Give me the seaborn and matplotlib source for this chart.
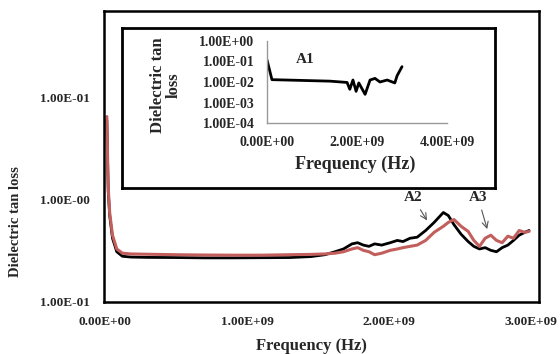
import numpy as np
import pandas as pd
import seaborn as sns
from matplotlib import pyplot as plt

# main plot, frequency in GHz (scaled to Hz below)
freq_main = [0.01, 0.015, 0.02, 0.03, 0.05, 0.08, 0.12, 0.18, 0.3, 0.5, 0.7, 0.9,
             1.1, 1.3, 1.45, 1.55, 1.62, 1.68, 1.74, 1.78, 1.82, 1.86, 1.90, 1.95,
             2.01, 2.06, 2.10, 2.15, 2.20, 2.26, 2.32, 2.385, 2.42, 2.46, 2.51, 2.56,
             2.60, 2.64, 2.68, 2.72, 2.76, 2.80, 2.84, 2.88, 2.92, 2.96, 2.99]
tan_black = [6.0, 2.5, 1.2, 0.7, 0.42, 0.31, 0.28, 0.275, 0.273, 0.272, 0.270, 0.270,
             0.271, 0.272, 0.278, 0.29, 0.31, 0.33, 0.37, 0.38, 0.36, 0.35, 0.37, 0.36,
             0.38, 0.40, 0.39, 0.42, 0.43, 0.50, 0.60, 0.75, 0.70, 0.57, 0.46, 0.39,
             0.35, 0.33, 0.34, 0.32, 0.31, 0.34, 0.36, 0.40, 0.45, 0.48, 0.50]
tan_red = [6.5, 2.7, 1.3, 0.75, 0.45, 0.33, 0.30, 0.295, 0.293, 0.29, 0.288, 0.287,
           0.287, 0.29, 0.292, 0.295, 0.30, 0.31, 0.33, 0.34, 0.32, 0.31, 0.29, 0.30,
           0.32, 0.33, 0.34, 0.35, 0.36, 0.40, 0.48, 0.55, 0.60, 0.64, 0.55, 0.49,
           0.40, 0.35, 0.42, 0.45, 0.40, 0.38, 0.44, 0.42, 0.50, 0.48, 0.49]

main_yticks = [0.1, 1, 10]
main_ylabels = ['1.00E-01', '1.00E-00', '1.00E-01']
main_xticks = [0, 1e9, 2e9, 3e9]
main_xlabels = ['0.00E+00', '1.00E+09', '2.00E+09', '3.00E+09']

# inset A1
freq_a1 = [0.0, 0.11, 0.73, 1.4, 1.78, 1.84, 1.91, 1.98, 2.04, 2.18, 2.29, 2.4,
           2.51, 2.67, 2.84, 2.89, 3.0]
tan_a1 = [0.12, 0.013, 0.012, 0.011, 0.0095, 0.0044, 0.0125, 0.0035, 0.009, 0.0025,
          0.0125, 0.015, 0.0100, 0.0125, 0.009, 0.02, 0.056]
inset_yticks = [1e0, 1e-1, 1e-2, 1e-3, 1e-4]
inset_ylabels = ['1.00E+00', '1.00E-01', '1.00E-02', '1.00E-03', '1.00E-04']
inset_xticks = [0, 2e9, 4e9]
inset_xlabels = ['0.00E+00', '2.00E+09', '4.00E+09']

sns.set_style("white")
plt.rcParams['font.family'] = ['Liberation Serif', 'DejaVu Serif']
plt.rcParams['font.weight'] = 'bold'

df = pd.DataFrame({
    'freq': np.array(freq_main) * 1e9,
    'black': tan_black,
    'red': tan_red,
})
a1 = pd.DataFrame({'freq': np.array(freq_a1) * 1e9, 'tan': tan_a1})

fig = plt.figure(figsize=(5.6, 3.54), dpi=100)
ax = fig.add_axes([104 / 560, 1 - 302 / 354, 435 / 560, 291 / 354])
sns.lineplot(data=df, x='freq', y='black', color='black', lw=2, ax=ax)
sns.lineplot(data=df, x='freq', y='red', color='#c25f5d', lw=2.2, ax=ax)
ax.set_yscale('log')
ax.set_ylim(0.1, 70)
ax.set_xlim(-0.01e9, 3.06e9)
ax.set_yticks(main_yticks)
ax.set_yticklabels(main_ylabels)
ax.minorticks_off()
ax.set_xticks(main_xticks)
ax.set_xticklabels(main_xlabels)
ax.tick_params(length=0, pad=10, labelsize=9.5)
ax.set_xlabel('Frequency (Hz)', fontsize=12, fontweight='bold')
ax.xaxis.set_label_coords(207 / 435, -36 / 291)
ax.set_ylabel('')
for sp in ax.spines.values():
    sp.set_color('black')
    sp.set_linewidth(1.8)
fig.text(16 / 560, 1 - 222 / 354, 'Dielectric tan loss', rotation=90,
         ha='center', va='center', fontsize=10.5, fontweight='bold')

ax.annotate('A2', xy=(2.28e9, 0.595), xytext=(2.17e9, 1.05), ha='center', va='center',
            fontsize=11, fontweight='bold',
            arrowprops=dict(arrowstyle='->', color='#555555', lw=0.8))
ax.annotate('A3', xy=(2.70e9, 0.486), xytext=(2.63e9, 1.05), ha='center', va='center',
            fontsize=11, fontweight='bold',
            arrowprops=dict(arrowstyle='->', color='#555555', lw=0.8))

# inset frame
frame = fig.add_axes([122 / 560, 1 - 188 / 354, 373 / 560, 160 / 354])
frame.set_xticks([])
frame.set_yticks([])
for sp in frame.spines.values():
    sp.set_color('black')
    sp.set_linewidth(2)

inset = fig.add_axes([267 / 560, 1 - 123 / 354, 180 / 560, 82 / 354])
sns.lineplot(data=a1, x='freq', y='tan', color='black', lw=2, ax=inset)
inset.set_yscale('log')
inset.set_ylim(1e-4, 1)
inset.set_xlim(0, 4e9)
inset.set_yticks(inset_yticks)
inset.set_yticklabels(inset_ylabels)
inset.minorticks_off()
inset.set_xticks(inset_xticks)
inset.set_xticklabels(inset_xlabels)
inset.tick_params(length=0, pad=9, labelsize=10)
inset.set_xlabel('')
inset.set_ylabel('')
inset.patch.set_alpha(0)
for side in ['top', 'right']:
    inset.spines[side].set_visible(False)
for side in ['left', 'bottom']:
    inset.spines[side].set_color('#999999')
    inset.spines[side].set_linewidth(1)
inset.text(0.85e9, 0.12, 'A1', fontsize=11, fontweight='bold', ha='center', va='center')
fig.text(355 / 560, 1 - 164 / 354, 'Frequency (Hz)', ha='center', va='center',
         fontsize=13, fontweight='bold')
fig.text(166 / 560, 1 - 85 / 354, 'Dielectric tan\nloss', rotation=90, ha='center',
         va='center', fontsize=12, fontweight='bold', linespacing=1.0)

fig.savefig('out.png', dpi=100)
